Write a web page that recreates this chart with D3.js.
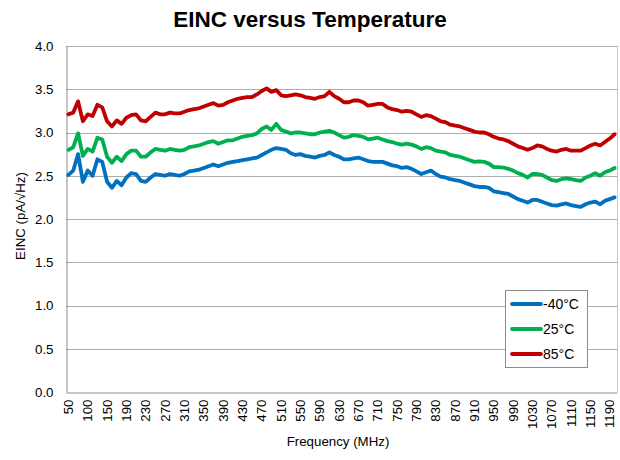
<!DOCTYPE html>
<html>
<head>
<meta charset="utf-8">
<script src="https://cdn.jsdelivr.net/npm/d3@7"></script>
<style>
  html, body { margin: 0; padding: 0; background: #fff; }
  svg { display: block; font-family: "Liberation Sans", Arial, sans-serif; }
</style>
</head>
<body>
<svg id="chart" width="620" height="460"></svg>
<script>
// Frequency categories (MHz)
const freq = [50, 62.5, 75, 87.5, 100, 112.5, 125, 137.5, 150,
  160, 170, 180, 190, 200, 210, 220, 230, 240, 250, 260, 270, 280, 290, 300,
  310, 320, 330, 340, 350, 360, 370, 380, 390, 400, 410, 420, 430, 440, 450,
  460, 470, 480, 490, 500, 510, 520, 530, 540, 550, 560, 570, 580, 590, 600,
  610, 620, 630, 640, 650, 660, 670, 680, 690, 700, 710, 720, 730, 740, 750,
  760, 770, 780, 790, 800, 810, 820, 830, 840, 850, 860, 870, 880, 890, 900,
  910, 920, 930, 940, 950, 960, 970, 980, 990, 1000, 1010, 1020, 1030, 1040,
  1050, 1060, 1070, 1080, 1090, 1100, 1110, 1120, 1130, 1140, 1150, 1160,
  1170, 1180, 1190, 1200];

// Tick labels shown on the x axis
const xTickLabels = [50, 100, 150, 190, 230, 270, 310, 350, 390, 430, 470, 510,
  550, 590, 630, 670, 710, 750, 790, 830, 870, 910, 950, 990, 1030, 1070,
  1110, 1150, 1190];

const yTicks = [0, 0.5, 1.0, 1.5, 2.0, 2.5, 3.0, 3.5, 4.0];

const seriesNames = ["-40°C", "25°C", "85°C"];

// EINC (pA/√Hz) at -40°C
const eincM40 = [2.51, 2.56, 2.75, 2.43, 2.56, 2.50, 2.69, 2.66, 2.43, 2.36, 2.44, 2.39, 2.48, 2.53,
  2.52, 2.44, 2.43, 2.48, 2.52, 2.51, 2.50, 2.52, 2.51, 2.50, 2.52, 2.55, 2.56, 2.57,
  2.59, 2.61, 2.63, 2.61, 2.63, 2.65, 2.66, 2.67, 2.68, 2.69, 2.70, 2.71, 2.74, 2.77,
  2.80, 2.82, 2.81, 2.80, 2.76, 2.74, 2.75, 2.73, 2.72, 2.71, 2.73, 2.74, 2.77,
  2.74, 2.72, 2.69, 2.69, 2.70, 2.71, 2.69, 2.67, 2.66, 2.66, 2.66, 2.64, 2.62, 2.61,
  2.59, 2.60, 2.58, 2.55, 2.52, 2.54, 2.56, 2.52, 2.49, 2.48, 2.46, 2.45, 2.44,
  2.42, 2.40, 2.38, 2.37, 2.37, 2.36, 2.32, 2.31, 2.30, 2.29, 2.26, 2.23, 2.21, 2.19,
  2.22, 2.22, 2.20, 2.18, 2.16, 2.155, 2.17, 2.18, 2.16, 2.15, 2.14, 2.17, 2.19, 2.20,
  2.17, 2.21, 2.23, 2.25];

// EINC at 25°C
const eincP25 = [2.80, 2.83, 2.99, 2.73, 2.81, 2.78, 2.94, 2.92, 2.72, 2.65, 2.72, 2.67, 2.75, 2.79,
  2.79, 2.72, 2.72, 2.77, 2.81, 2.80, 2.79, 2.81, 2.80, 2.79, 2.80, 2.83, 2.84, 2.85,
  2.87, 2.89, 2.90, 2.87, 2.89, 2.91, 2.91, 2.93, 2.95, 2.96, 2.97, 2.99, 3.04, 3.07,
  3.03, 3.10, 3.03, 3.01, 2.99, 3.00, 3.00, 2.99, 2.98, 2.98, 3.00, 3.01, 3.02,
  3.00, 2.97, 2.94, 2.95, 2.97, 2.96, 2.95, 2.92, 2.93, 2.94, 2.92, 2.90, 2.89, 2.87,
  2.86, 2.87, 2.86, 2.84, 2.81, 2.83, 2.82, 2.79, 2.78, 2.77, 2.74, 2.73, 2.72,
  2.70, 2.68, 2.66, 2.665, 2.66, 2.64, 2.60, 2.60, 2.595, 2.58, 2.56, 2.53, 2.51, 2.48,
  2.52, 2.52, 2.51, 2.48, 2.45, 2.44, 2.46, 2.47, 2.46, 2.45, 2.44, 2.48, 2.50, 2.53,
  2.50, 2.54, 2.56, 2.59];

// EINC at 85°C
const eincP85 = [3.21, 3.23, 3.36, 3.13, 3.21, 3.19, 3.32, 3.29, 3.13, 3.07, 3.14, 3.10, 3.17, 3.20,
  3.21, 3.14, 3.13, 3.18, 3.23, 3.21, 3.21, 3.23, 3.22, 3.22, 3.24, 3.26, 3.27, 3.28,
  3.30, 3.32, 3.34, 3.31, 3.32, 3.35, 3.37, 3.39, 3.40, 3.41, 3.41, 3.44, 3.48, 3.51,
  3.47, 3.49, 3.43, 3.42, 3.43, 3.44, 3.43, 3.41, 3.40, 3.39, 3.41, 3.42, 3.47,
  3.42, 3.39, 3.35, 3.35, 3.37, 3.37, 3.35, 3.31, 3.32, 3.33, 3.33, 3.29, 3.27, 3.26,
  3.24, 3.25, 3.24, 3.21, 3.18, 3.20, 3.19, 3.16, 3.13, 3.12, 3.09, 3.08, 3.07,
  3.05, 3.03, 3.01, 3.00, 3.00, 2.98, 2.95, 2.93, 2.92, 2.90, 2.87, 2.84, 2.82, 2.80,
  2.82, 2.85, 2.84, 2.81, 2.79, 2.78, 2.80, 2.81, 2.79, 2.79, 2.79, 2.82, 2.85, 2.87,
  2.85, 2.89, 2.93, 2.98];

const colors = ["#0070C0", "#00B050", "#C00000"];

const svg = d3.select("#chart");
const plotL = 66, plotR = 617, plotT = 46, plotB = 392;

const x = d3.scaleBand().domain(freq).range([plotL, plotR]).paddingInner(0).paddingOuter(0);
const xc = f => x(f) + x.bandwidth() / 2;
const y = d3.scaleLinear().domain([0, 4]).range([plotB, plotT]);

// gridlines
svg.append("g")
  .selectAll("line")
  .data(yTicks.filter(v => v > 0))
  .join("line")
  .attr("x1", plotL).attr("x2", plotR)
  .attr("y1", d => Math.round(y(d)) + 0.5).attr("y2", d => Math.round(y(d)) + 0.5)
  .attr("stroke", "#ADADAD").attr("stroke-width", 1);

// right border of plot area
svg.append("line")
  .attr("x1", plotR + 0.5).attr("x2", plotR + 0.5)
  .attr("y1", y(4)).attr("y2", plotB)
  .attr("stroke", "#C8C8C8").attr("stroke-width", 1);

// y axis
const yAxis = svg.append("g")
  .attr("transform", `translate(${plotL + 0.5},0)`)
  .call(d3.axisLeft(y).tickValues(yTicks).tickFormat(d3.format(".1f")).tickSize(0).tickPadding(13));
yAxis.select(".domain").attr("stroke", "#8C8C8C");
yAxis.selectAll("text").attr("font-size", 13.3).attr("fill", "#000")
  .attr("font-family", '"Liberation Sans", Arial, sans-serif');

// x axis
const xAxis = svg.append("g")
  .attr("transform", `translate(0,${plotB + 0.5})`)
  .call(d3.axisBottom(x).tickValues(xTickLabels).tickSize(0));
xAxis.select(".domain").attr("stroke", "#8C8C8C");
xAxis.selectAll("text")
  .attr("font-size", 13.3).attr("fill", "#000")
  .attr("font-family", '"Liberation Sans", Arial, sans-serif')
  .attr("transform", "rotate(-90)")
  .attr("text-anchor", "end")
  .attr("x", -7).attr("y", 0).attr("dy", "0.35em");

// lines
const series = [eincM40, eincP25, eincP85];
const line = d3.line().x((d, i) => xc(freq[i])).y(d => y(d));
svg.append("g").selectAll("path")
  .data(series)
  .join("path")
  .attr("d", d => line(d))
  .attr("fill", "none")
  .attr("stroke", (d, i) => colors[i])
  .attr("stroke-width", 3.8)
  .attr("stroke-linejoin", "round")
  .attr("stroke-linecap", "round");

// title
svg.append("text")
  .attr("x", 310).attr("y", 27)
  .attr("text-anchor", "middle")
  .attr("font-size", 22.5).attr("font-weight", "bold")
  .text("EINC versus Temperature");

// axis titles
svg.append("text")
  .attr("x", 338).attr("y", 446)
  .attr("text-anchor", "middle")
  .attr("font-size", 13.3)
  .text("Frequency (MHz)");

svg.append("text")
  .attr("transform", "translate(25,216) rotate(-90)")
  .attr("text-anchor", "middle")
  .attr("font-size", 13.3)
  .text("EINC (pA/√Hz)");

// legend
const lg = svg.append("g");
lg.append("rect")
  .attr("x", 505.5).attr("y", 290.5).attr("width", 82).attr("height", 77)
  .attr("fill", "#fff").attr("stroke", "#8C8C8C").attr("stroke-width", 1);
const rows = lg.selectAll("g.item").data(seriesNames).join("g")
  .attr("transform", (d, i) => `translate(0,${304 + i * 25})`);
rows.append("line")
  .attr("x1", 512).attr("x2", 541).attr("y1", 0).attr("y2", 0)
  .attr("stroke", (d, i) => colors[i]).attr("stroke-width", 3.8)
  .attr("stroke-linecap", "round");
rows.append("text")
  .attr("x", 543).attr("y", 0).attr("dy", "0.35em")
  .attr("font-size", 14)
  .text(d => d);
</script>
</body>
</html>
